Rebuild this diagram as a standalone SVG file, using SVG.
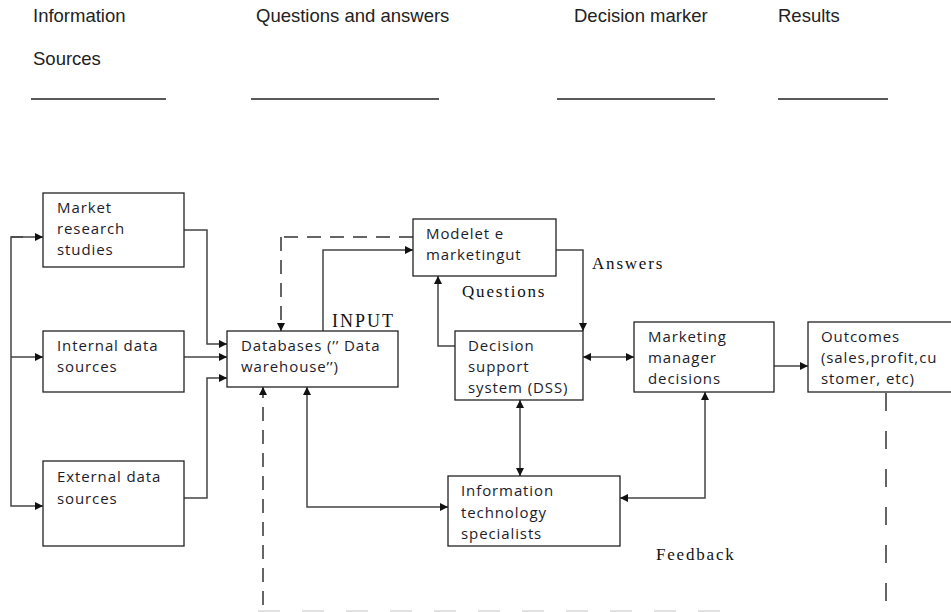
<svg xmlns="http://www.w3.org/2000/svg" width="951" height="612" viewBox="0 0 951 612">
<style>
.box{fill:#fff;stroke:#222;stroke-width:1.3}
.t{font-family:"Open Sans","Liberation Sans",sans-serif;font-size:15px;letter-spacing:0.9px;fill:#1c1c2c}
.h{font-family:"Liberation Sans",sans-serif;font-size:18.5px;fill:#222}
.s{font-family:"Liberation Serif",serif;font-size:17px;letter-spacing:1.8px;fill:#111}
.c{fill:none;stroke:#444;stroke-width:1.5}
.d{fill:none;stroke:#333;stroke-width:1.5;stroke-dasharray:14 9}
.u{stroke:#222;stroke-width:1.4}
</style>
<defs>
<marker id="a" viewBox="0 0 10 10" refX="10" refY="5" markerWidth="8" markerHeight="8" markerUnits="userSpaceOnUse" orient="auto-start-reverse"><path d="M0,0 L10,5 L0,10 z" fill="#111"/></marker>
</defs>
<rect width="951" height="612" fill="#fff"/>
<g id="header">
<text class="h" x="33" y="22">Information</text>
<text class="h" x="33" y="65">Sources</text>
<text class="h" x="256" y="22">Questions and answers</text>
<text class="h" x="574" y="22">Decision marker</text>
<text class="h" x="778" y="22">Results</text>
<line class="u" x1="31" y1="99" x2="166" y2="99"/>
<line class="u" x1="251" y1="99" x2="439" y2="99"/>
<line class="u" x1="557" y1="99" x2="715" y2="99"/>
<line class="u" x1="778" y1="99" x2="888" y2="99"/>
</g>
<g id="connectors">
<path class="c" d="M23,237 H11 V506 H43" marker-end="url(#a)"/>
<path class="c" d="M11,237 H43" marker-end="url(#a)"/>
<path class="c" d="M11,357 H43" marker-end="url(#a)"/>
<path class="c" d="M184,230 H207 V344 H227" marker-end="url(#a)"/>
<path class="c" d="M184,357 H227" marker-end="url(#a)"/>
<path class="c" d="M184,498 H207 V378 H227" marker-end="url(#a)"/>
<path class="d" d="M413,237 H281"/>
<path class="d" d="M281,237 V331" marker-end="url(#a)"/>
<path class="c" d="M323,331 V250 H413" marker-end="url(#a)"/>
<path class="c" d="M556,250 H583 V331" marker-end="url(#a)"/>
<path class="c" d="M455,346 H438 V276" marker-end="url(#a)"/>
<path class="c" d="M583,357 H634" marker-start="url(#a)" marker-end="url(#a)"/>
<path class="c" d="M774,366 H808" marker-end="url(#a)"/>
<path class="c" d="M520,400 V476" marker-start="url(#a)" marker-end="url(#a)"/>
<path class="c" d="M307,387 V507 H448" marker-start="url(#a)" marker-end="url(#a)"/>
<path class="c" d="M705,392 V498 H620" marker-start="url(#a)" marker-end="url(#a)"/>
<path class="d" d="M263,605 V387" marker-end="url(#a)"/>
<path class="d" d="M886,393 V612" style="stroke-dasharray:18 20"/>
<path d="M258,611 H732" stroke="#e2e2e2" stroke-width="2" style="stroke-dasharray:22 22"/>
</g>
<g id="market-research">
<rect class="box" x="43" y="193" width="141" height="74"/>
<text class="t" x="57" y="213">Market</text>
<text class="t" x="57" y="234">research</text>
<text class="t" x="57" y="255">studies</text>
</g>
<g id="internal-data">
<rect class="box" x="43" y="331" width="141" height="61"/>
<text class="t" x="57" y="351">Internal data</text>
<text class="t" x="57" y="372">sources</text>
</g>
<g id="external-data">
<rect class="box" x="43" y="461" width="141" height="85"/>
<text class="t" x="57" y="482">External data</text>
<text class="t" x="57" y="504">sources</text>
</g>
<g id="databases">
<rect class="box" x="227" y="331" width="171" height="56"/>
<text class="t" x="241" y="351">Databases (’’ Data</text>
<text class="t" x="241" y="372">warehouse’’)</text>
</g>
<g id="modelet">
<rect class="box" x="413" y="219" width="143" height="57"/>
<text class="t" x="426" y="239">Modelet e</text>
<text class="t" x="426" y="260">marketingut</text>
</g>
<g id="dss">
<rect class="box" x="455" y="331" width="128" height="69"/>
<text class="t" x="468" y="351">Decision</text>
<text class="t" x="468" y="372">support</text>
<text class="t" x="468" y="393">system (DSS)</text>
</g>
<g id="marketing-manager">
<rect class="box" x="634" y="322" width="140" height="70"/>
<text class="t" x="648" y="342">Marketing</text>
<text class="t" x="648" y="363">manager</text>
<text class="t" x="648" y="384">decisions</text>
</g>
<g id="outcomes">
<rect class="box" x="808" y="322" width="150" height="70"/>
<text class="t" x="821" y="342">Outcomes</text>
<text class="t" x="821" y="363">(sales,profit,cu</text>
<text class="t" x="821" y="384">stomer, etc)</text>
</g>
<g id="it-specialists">
<rect class="box" x="448" y="476" width="172" height="70"/>
<text class="t" x="461" y="496">Information</text>
<text class="t" x="461" y="518">technology</text>
<text class="t" x="461" y="539">specialists</text>
</g>
<g id="labels">
<text class="s" x="332" y="327" style="font-size:18px;letter-spacing:2px">INPUT</text>
<text class="s" x="592" y="269">Answers</text>
<text class="s" x="462" y="297">Questions</text>
<text class="s" x="656" y="560">Feedback</text>
</g>
</svg>
